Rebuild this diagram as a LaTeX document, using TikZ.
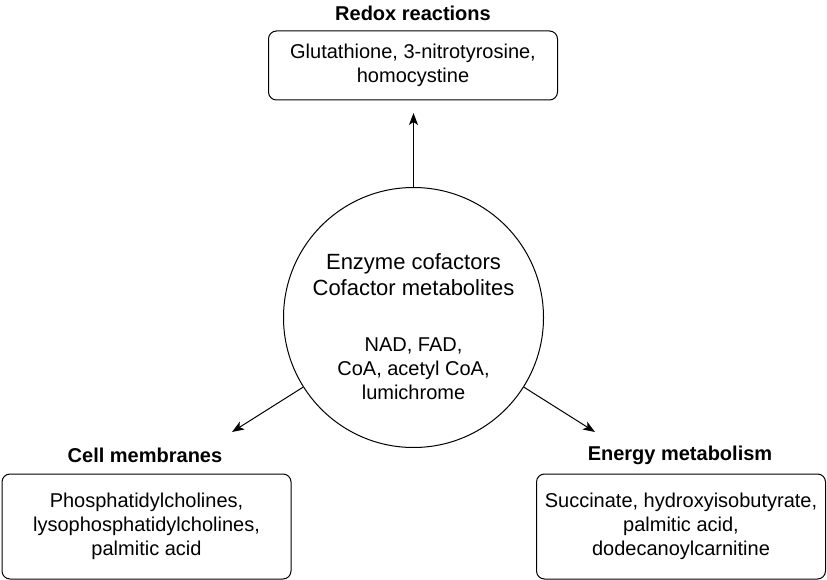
\documentclass[tikz,border=0pt]{standalone}
\usepackage{fontspec}
\setmainfont{Liberation Sans}
\usetikzlibrary{arrows.meta}

\tikzset{every picture/.style={line width=1pt}}
\tikzset{
  groupbox/.style={draw, rounded corners=8pt, minimum width=289pt, inner sep=0pt, align=center, font=\fontsize{20}{24}\selectfont},
  grouptitle/.style={inner sep=0pt, font=\fontsize{20}{24}\selectfont\bfseries},
  linkarrow/.style={-{Stealth[length=12pt,width=9pt,inset=3pt]}}
}

\begin{document}
\begin{tikzpicture}[x=1pt,y=1pt,yscale=-1,xscale=1]
\useasboundingbox (0,0) rectangle (827,580);

%Shape: Circle [id:cofactors]
\node (cof) at (413.5,317.5) [draw, circle, minimum size=260pt, inner sep=0pt] {};
% Text Node
\node (cofHead) at (413.5,275) [inner sep=0pt, align=center, font=\fontsize{22}{26}\selectfont] {Enzyme cofactors\\Cofactor metabolites};
% Text Node
\node (cofList) at (413.5,369) [inner sep=0pt, align=center, font=\fontsize{20}{24}\selectfont] {NAD, FAD,\\CoA, acetyl CoA,\\lumichrome};

%Shape: Rectangle [id:redox]
\node (redox) at (413,65.5) [groupbox, minimum height=69pt] {Glutathione, 3-nitrotyrosine,\\homocystine};
% Text Node
\node (redoxTitle) at (413,13) [grouptitle] {Redox reactions};

%Shape: Rectangle [id:membranes]
\node (membr) at (146.5,526.5) [groupbox, minimum height=105pt] {Phosphatidylcholines,\\lysophosphatidylcholines,\\palmitic acid};
% Text Node
\node (membrTitle) at (145,455) [grouptitle] {Cell membranes};

%Shape: Rectangle [id:energy]
\node (energy) at (681,526.5) [groupbox, minimum height=105pt] {Succinate, hydroxyisobutyrate,\\palmitic acid,\\dodecanoylcarnitine};
% Text Node
\node (energyTitle) at (680,455) [grouptitle] {Energy metabolism};

%Straight Lines [id:arrows]
\coordinate (redoxTip) at (413.5,113);
\coordinate (membrTip) at (232,432);
\coordinate (energyTip) at (595,432);
\draw [linkarrow] (cof) -- (redoxTip);
\draw [linkarrow] (cof) -- (membrTip);
\draw [linkarrow] (cof) -- (energyTip);
\end{tikzpicture}
\end{document}
